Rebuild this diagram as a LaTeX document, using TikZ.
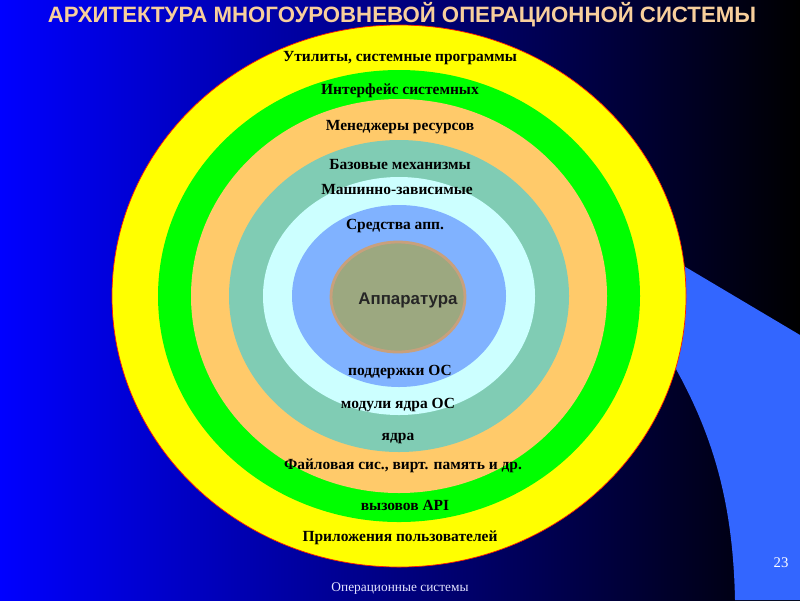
\documentclass[tikz,border=0pt]{standalone}
\usepackage{fontspec}
\setmainfont{Liberation Serif}
\setsansfont{Liberation Sans}

\definecolor{bandblue}{HTML}{3366FF}
\definecolor{titlepeach}{HTML}{F8CF9C}
\definecolor{ringyellow}{HTML}{FFFF00}
\definecolor{ringgreen}{HTML}{00FF00}
\definecolor{ringorange}{HTML}{FFCA6A}
\definecolor{ringteal}{HTML}{80CCB4}
\definecolor{ringcyan}{HTML}{CCFFFF}
\definecolor{ringblue}{HTML}{80B2FF}
\definecolor{coreolive}{HTML}{9CA880}
\definecolor{coretan}{HTML}{C8A07C}
\definecolor{footgray}{HTML}{E4E4FF}

\begin{document}
\begin{tikzpicture}[x=0.025cm, y=-0.025cm,
		every node/.style={inner sep=0pt, text=black, font=\bfseries\fontsize{11}{13}\selectfont}]
		\useasboundingbox (0,0) rectangle (800,600);
		\shade[left color=blue, right color=black] (0,0) rectangle (800,600);

		\fill[bandblue] (640,240) -- (800,335) -- (800,600) -- (735,600)
			.. controls (733,500) and (712,430) .. (668,355) -- cycle;

		\fill[ringyellow, draw=red!80!orange, line width=0.5pt] (399,296) ellipse [x radius=287, y radius=271];
		\fill[ringgreen] (399,296) ellipse [x radius=241, y radius=226];
		\fill[ringorange] (399,296) ellipse [x radius=208, y radius=197];
		\fill[ringteal] (399,296) ellipse [x radius=170, y radius=156];
		\fill[ringcyan] (399,296) ellipse [x radius=136, y radius=119];
		\fill[ringblue] (399,296) ellipse [x radius=107, y radius=91];
		\fill[coreolive, draw=coretan, line width=2pt] (398,297) ellipse [x radius=67, y radius=55];

		\node[text=titlepeach, font=\sffamily\bfseries\fontsize{15.8}{18}\selectfont] (title) at (402,15)
			{АРХИТЕКТУРА МНОГОУРОВНЕВОЙ ОПЕРАЦИОННОЙ СИСТЕМЫ};

		\node (util) at (400,58) {Утилиты, системные программы};
		\node (intf) at (400,91) {Интерфейс системных};
		\node (mgr) at (400,127) {Менеджеры ресурсов};
		\node (base) at (400,165) {Базовые механизмы};
		\node (mach) at (397,190) {Машинно-зависимые};
		\node (tools) at (395,226) {Средства апп.};
		\node[text=black!85, font=\sffamily\bfseries\fontsize{12}{14}\selectfont] (hw) at (408,300) {Аппаратура};
		\node (supp) at (400,372) {поддержки ОС};
		\node (mods) at (398,405) {модули ядра ОС};
		\node (kern) at (398,438) {ядра};
		\node (fs) at (403,466) {Файловая сис., вирт. память и др.};
		\node (api) at (405,505) {вызовов API};
		\node (apps) at (400,538) {Приложения пользователей};

		\node[text=white, font=\fontsize{10.5}{12}\selectfont] (page) at (781,563) {23};
		\node[text=footgray, font=\fontsize{9.5}{11}\selectfont] (foot) at (400,588) {Операционные системы};
	\end{tikzpicture}
\end{document}
